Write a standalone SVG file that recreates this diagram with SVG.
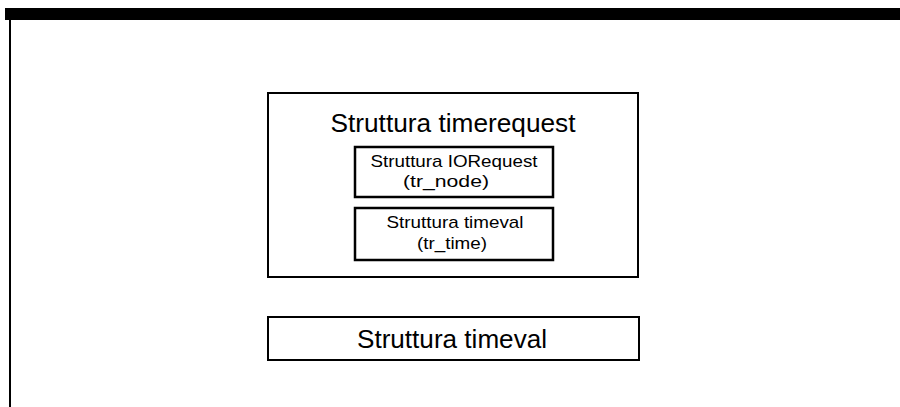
<svg xmlns="http://www.w3.org/2000/svg" width="900" height="407" viewBox="0 0 900 407">
<style>
.box{fill:none;stroke:#000;stroke-width:2}
.ibox{fill:none;stroke:#000;stroke-width:2.5}
text{font-family:"Liberation Sans",Arial,sans-serif;fill:#000;text-anchor:middle}
.t1{font-size:25px}
.t2{font-size:17px}
</style>
<rect width="900" height="407" fill="#fff"/>
<g id="frame">
<rect x="5" y="8" width="895" height="12" fill="#000"/>
<line x1="10" y1="20" x2="10" y2="407" stroke="#000" stroke-width="2"/>
</g>
<g id="timerequest">
<rect class="box" x="268" y="93" width="370" height="184"/>
<text class="t1" x="453" y="132" textLength="245" lengthAdjust="spacingAndGlyphs">Struttura timerequest</text>
</g>
<g id="iorequest">
<rect class="ibox" x="355" y="147" width="198" height="50"/>
<text class="t2" x="454" y="167" textLength="167" lengthAdjust="spacingAndGlyphs">Struttura IORequest</text>
<text class="t2" x="446" y="187" textLength="86" lengthAdjust="spacingAndGlyphs">(tr_node)</text>
</g>
<g id="timeval-inner">
<rect class="ibox" x="355" y="208" width="198" height="52"/>
<text class="t2" x="455" y="228" textLength="137" lengthAdjust="spacingAndGlyphs">Struttura timeval</text>
<text class="t2" x="452" y="249" textLength="70" lengthAdjust="spacingAndGlyphs">(tr_time)</text>
</g>
<g id="timeval">
<rect class="box" x="268" y="317" width="371" height="43"/>
<text class="t1" x="452" y="348" textLength="190" lengthAdjust="spacingAndGlyphs">Struttura timeval</text>
</g>
<g id="connectors"/>
</svg>
